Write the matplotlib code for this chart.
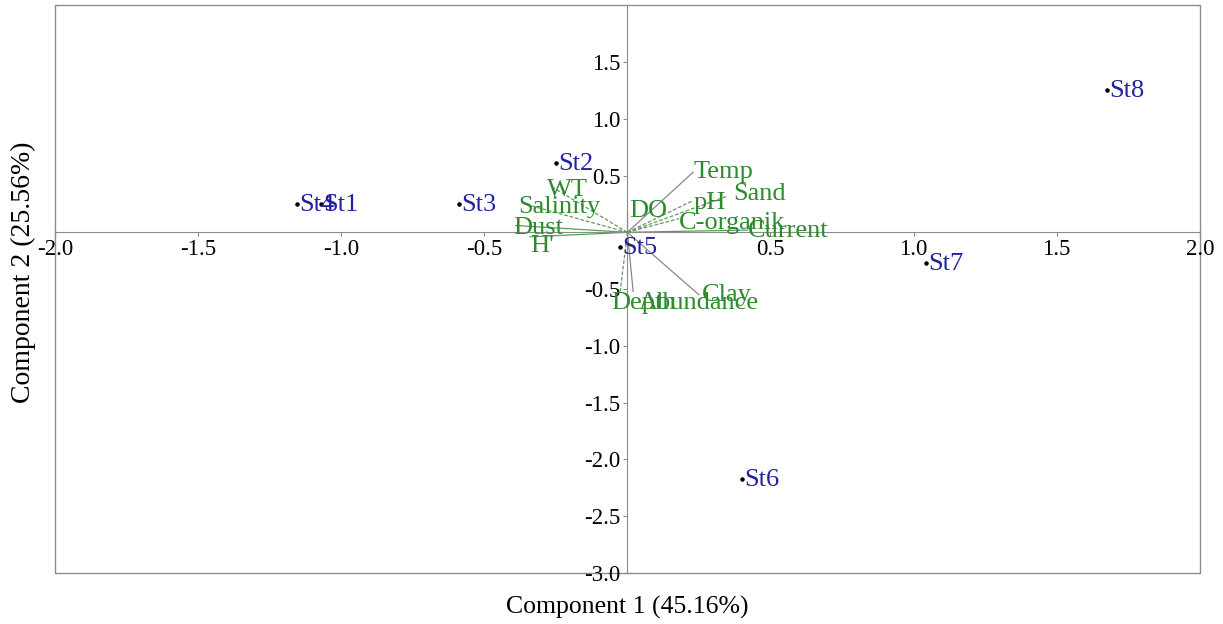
import matplotlib
matplotlib.use("Agg")
import matplotlib.pyplot as plt
from matplotlib.patches import Rectangle

plt.rcParams['font.family'] = ['Liberation Serif', 'DejaVu Serif']

# Station scores
stations = ["St1", "St2", "St3", "St4", "St5", "St6", "St7", "St8"]
st_x = [-1.07, -0.25, -0.59, -1.155, -0.025, 0.40, 1.045, 1.675]
st_y = [0.25, 0.61, 0.25, 0.25, -0.13, -2.17, -0.27, 1.25]

# Variable loadings
variables = ["Temp", "pH", "Sand", "C-organik", "Current", "DO", "WT",
             "Salinity", "Dust", "H'", "Depth", "Abundance", "Clay"]
var_x = [0.23, 0.23, 0.35, 0.18, 0.42, 0.00, -0.27, -0.36, -0.39, -0.34, -0.025, 0.02, 0.25]
var_y = [0.53, 0.28, 0.32, 0.12, 0.02, 0.19, 0.41, 0.25, 0.06, -0.04, -0.52, -0.52, -0.55]
var_style = ["-", "--", "--", "--", "-", "-", "--", "--", "-", "-", "--", "-", "-"]
var_lcol = ["#888888", "#669966", "#669966", "#669966", "#55a055", "#888888", "#669966",
            "#669966", "#55a055", "#55a055", "#669966", "#888888", "#888888"]

xticks = [-2.0, -1.5, -1.0, -0.5, 0.5, 1.0, 1.5, 2.0]
yticks = [1.5, 1.0, 0.5, -0.5, -1.0, -1.5, -2.0, -2.5, -3.0]

green = "#2e8a2e"
blue = "#2222a0"
gray = "#8c8c8c"

fig = plt.figure(figsize=(12.23, 6.24), dpi=100)
ax = fig.add_axes([0.045, 0.0817, 0.936, 0.910])
ax.set_xlim(-2.0, 2.0)
ax.set_ylim(-3.0, 2.0)

# frame
for s in ax.spines.values():
    s.set_visible(False)
ax.add_patch(Rectangle((0, 0), 1, 1, transform=ax.transAxes, fill=False,
                       edgecolor=gray, linewidth=1.0, clip_on=False, zorder=1))
ax.spines['left'].set_visible(True)
ax.spines['bottom'].set_visible(True)
ax.spines['left'].set_position(('data', 0))
ax.spines['bottom'].set_position(('data', 0))
ax.spines['left'].set_color(gray)
ax.spines['bottom'].set_color(gray)

ax.set_xticks(xticks)
ax.set_xticklabels([f"{t:.1f}" for t in xticks])
ax.set_yticks(yticks)
ax.set_yticklabels([f"{t:.1f}" for t in yticks])
ax.tick_params(axis='both', direction='out', length=3, width=0.8, color=gray,
               labelsize=16.5, pad=2)

# vectors
for vx, vy, ls, lc in zip(var_x, var_y, var_style, var_lcol):
    ax.plot([0, vx], [0, vy], linestyle=ls, color=lc, linewidth=0.9, zorder=2,
            dashes=(3, 1.5) if ls == "--" else (None, None))
offs = {"Temp": (0.0, 0.0), "pH": (0.0, -0.02), "Sand": (0.02, 0.02),
        "C-organik": (0.0, -0.04), "Current": (0.0, -0.01),
        "Depth": (-0.03, -0.10), "Abundance": (0.02, -0.10),
        "Clay": (0.01, 0.0), "H'": (0.0, -0.08), "Dust": (-0.01, -0.02),
        "Salinity": (-0.02, -0.03), "WT": (-0.01, -0.04), "DO": (0.005, 0.0)}
for name, vx, vy in zip(variables, var_x, var_y):
    dx, dy = offs.get(name, (0.0, 0.0))
    ax.text(vx + dx, vy + dy, name, color=green, fontsize=19, ha='left', va='center', zorder=3)

# stations
ax.scatter(st_x, st_y, s=5, color="black", zorder=4)
for name, x, y in zip(stations, st_x, st_y):
    ax.text(x + 0.008, y - 0.01, name, color=blue, fontsize=19, ha='left', va='center', zorder=5)

ax.set_xlabel("Component 1 (45.16%)", fontsize=18.5)
ax.set_ylabel("Component 2 (25.56%)", fontsize=20)
ax.xaxis.set_label_coords(0.5, -0.04)
ax.yaxis.set_label_coords(-0.017, 0.53)

fig.savefig("out.png", dpi=100)
